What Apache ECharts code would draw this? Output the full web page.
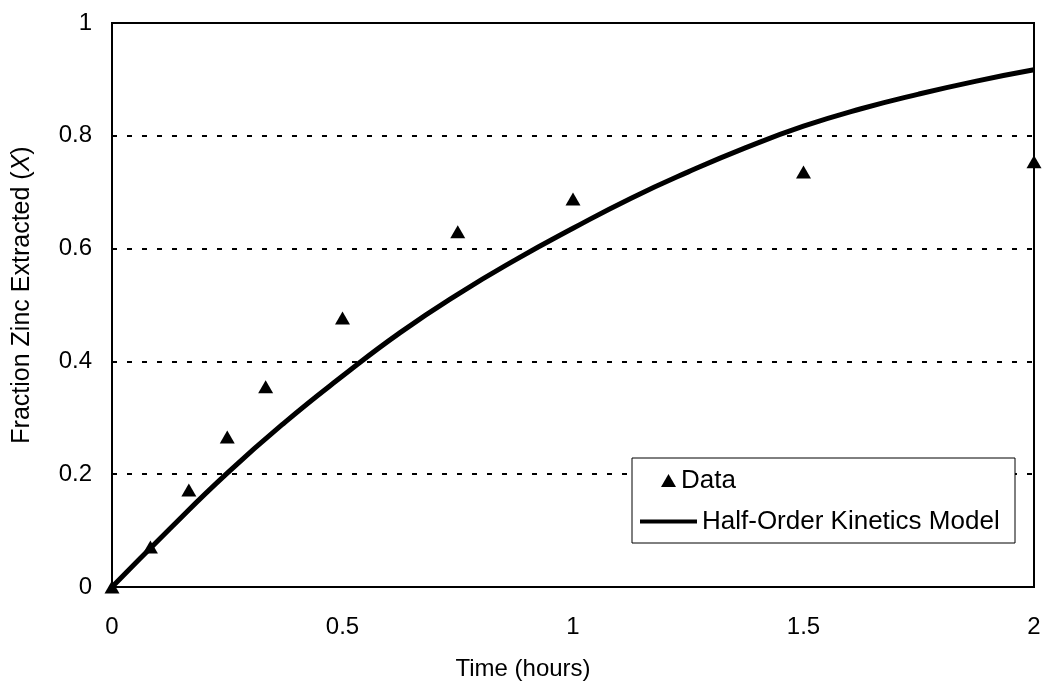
<!DOCTYPE html>
<html>
<head>
<meta charset="utf-8">
<script src="https://cdn.jsdelivr.net/npm/echarts@6/dist/echarts.min.js"></script>
<style>
  html, body { margin: 0; padding: 0; background: #fff; }
  #chart { width: 1045px; height: 688px; }
</style>
</head>
<body>
<div id="chart"></div>
<script>
// Measured zinc extraction (time in hours, fraction extracted)
const timeHours = [0, 0.0833, 0.1667, 0.25, 0.3333, 0.5, 0.75, 1, 1.5, 2];
const fractionData = [0, 0.071, 0.172, 0.266, 0.355, 0.477, 0.630, 0.688, 0.736, 0.754];

// Half-order kinetics model curve
const modelTime = [0, 0.125, 0.25, 0.375, 0.5, 0.625, 0.75, 0.875, 1, 1.125, 1.25, 1.375, 1.5, 1.625, 1.75, 1.875, 2];
const modelFraction = [0, 0.103, 0.202, 0.292, 0.374, 0.451, 0.519, 0.580, 0.636, 0.689, 0.736, 0.779, 0.817, 0.848, 0.874, 0.897, 0.917];

const xTicks = [0, 0.5, 1, 1.5, 2];
const yTicks = [0, 0.2, 0.4, 0.6, 0.8, 1];

const FONT = "'Liberation Sans', Arial, sans-serif";

const chart = echarts.init(document.getElementById('chart'));
chart.setOption({
  backgroundColor: '#ffffff',
  animation: false,
  textStyle: { fontFamily: FONT, color: '#000' },
  grid: {
    left: 112, right: 11, top: 23, bottom: 101,
    show: true, borderColor: '#000', borderWidth: 2, backgroundColor: 'transparent'
  },
  xAxis: {
    type: 'value',
    min: xTicks[0], max: xTicks[xTicks.length - 1], interval: 0.5,
    name: 'Time (hours)',
    nameLocation: 'middle',
    nameGap: 70,
    nameTextStyle: { fontSize: 24, color: '#000', fontFamily: FONT, padding: [0, 100, 0, 0] },
    axisLine: { show: true, lineStyle: { color: '#000', width: 2 } },
    axisTick: { show: false },
    splitLine: { show: false },
    axisLabel: { fontSize: 24, color: '#000', margin: 28, fontFamily: FONT }
  },
  yAxis: {
    type: 'value',
    min: yTicks[0], max: yTicks[yTicks.length - 1], interval: 0.2,
    name: '{t|Fraction Zinc Extracted (}{i|X}{t|)}',
    nameLocation: 'middle',
    nameGap: 77,
    nameTextStyle: {
      padding: [0, 0, 0, 20],
      rich: {
        t: { fontSize: 25, color: '#000', fontFamily: FONT },
        i: { fontSize: 25, color: '#000', fontFamily: FONT, fontStyle: 'italic' }
      }
    },
    axisLine: { show: true, lineStyle: { color: '#000', width: 2 } },
    axisTick: { show: false },
    splitLine: { show: true, lineStyle: { color: '#000', width: 2, type: [5, 10] } },
    axisLabel: {
      fontSize: 24, color: '#000', margin: 20, fontFamily: FONT,
      formatter: v => String(Math.round(v * 10) / 10)
    }
  },
  legend: [
    {
      data: ['Data'],
      left: 661, top: 467, padding: 0,
      itemWidth: 15, itemHeight: 13,
      itemStyle: { opacity: 1 },
      textStyle: { fontSize: 26, color: '#000', fontFamily: FONT, lineHeight: 27 }
    },
    {
      data: [{ name: 'Half-Order Kinetics Model', icon: 'rect' }],
      left: 640, top: 508, padding: 0,
      itemWidth: 57, itemHeight: 4,
      itemGap: 0,
      textStyle: { fontSize: 26, color: '#000', fontFamily: FONT, lineHeight: 27 }
    }
  ],
  graphic: [
    {
      type: 'rect',
      shape: { x: 632, y: 458, width: 383, height: 85 },
      style: { fill: '#fff', stroke: '#000', lineWidth: 1 },
      z: 4
    }
  ],
  series: [
    {
      name: 'Half-Order Kinetics Model',
      type: 'line',
      smooth: true,
      symbol: 'none',
      data: modelTime.map((t, i) => [t, modelFraction[i]]),
      lineStyle: { color: '#000', width: 5 },
      itemStyle: { color: '#000' },
      z: 3
    },
    {
      name: 'Data',
      type: 'scatter',
      symbol: 'triangle',
      symbolSize: [15, 13],
      data: timeHours.map((t, i) => [t, fractionData[i]]),
      itemStyle: { color: '#000', opacity: 1 },
      clip: false,
      z: 4
    }
  ]
});
</script>
</body>
</html>
